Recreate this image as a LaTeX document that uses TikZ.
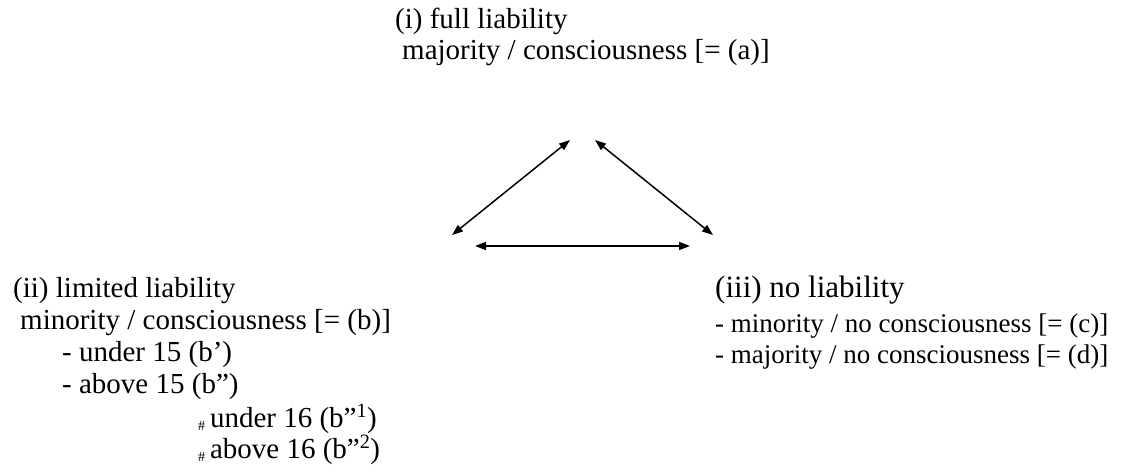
\documentclass[tikz,border=0pt]{standalone}
\usepackage{fontspec}
\setmainfont{Liberation Serif}
\usetikzlibrary{arrows.meta}
\tikzset{
  txt/.style={anchor=base west, inner sep=0pt, font=\fontsize{29}{33}\selectfont},
  bigtxt/.style={anchor=base west, inner sep=0pt, font=\fontsize{31}{35}\selectfont},
  smalltxt/.style={anchor=base west, inner sep=0pt, font=\fontsize{27}{31}\selectfont},
  link/.style={line width=1.5pt, {Triangle[length=11pt,width=8pt]}-{Triangle[length=11pt,width=8pt]}}
}
\newcommand{\hashmark}{\raisebox{-3pt}{\fontsize{14}{14}\selectfont\#}}
\begin{document}
\begin{tikzpicture}[x=1pt,y=-1pt]
\useasboundingbox (0,0) rectangle (1145,472);
% top block
\node[txt] (i1) at (395,28) {(i) full liability};
\node[txt] (i2) at (402,59) {majority / consciousness [= (a)]};
% left block
\node[txt] (ii1) at (13,297) {(ii) limited liability};
\node[txt] (ii2) at (20,329) {minority / consciousness [= (b)]};
\node[txt] (ii3) at (62,361) {- under 15 (b’)};
\node[txt] (ii4) at (62,393) {- above 15 (b”)};
\node[txt] (ii5) at (198,427) {\hashmark\,under 16 (b”\textsuperscript{1})};
\node[txt] (ii6) at (198,458) {\hashmark\,above 16 (b”\textsuperscript{2})};
% right block
\node[bigtxt] (iii1) at (715,297) {(iii) no liability};
\node[smalltxt] (iii2) at (715,332) {- minority / no consciousness [= (c)]};
\node[smalltxt] (iii3) at (715,363) {- majority / no consciousness [= (d)]};
% arrows
\coordinate (tl) at (570,140);
\coordinate (tr) at (595,140);
\coordinate (bl) at (452,235);
\coordinate (br) at (713,235);
\coordinate (hl) at (475,246);
\coordinate (hr) at (690,246);
\draw[link] (tl) -- (bl);
\draw[link] (tr) -- (br);
\draw[link] (hl) -- (hr);
\end{tikzpicture}
\end{document}
